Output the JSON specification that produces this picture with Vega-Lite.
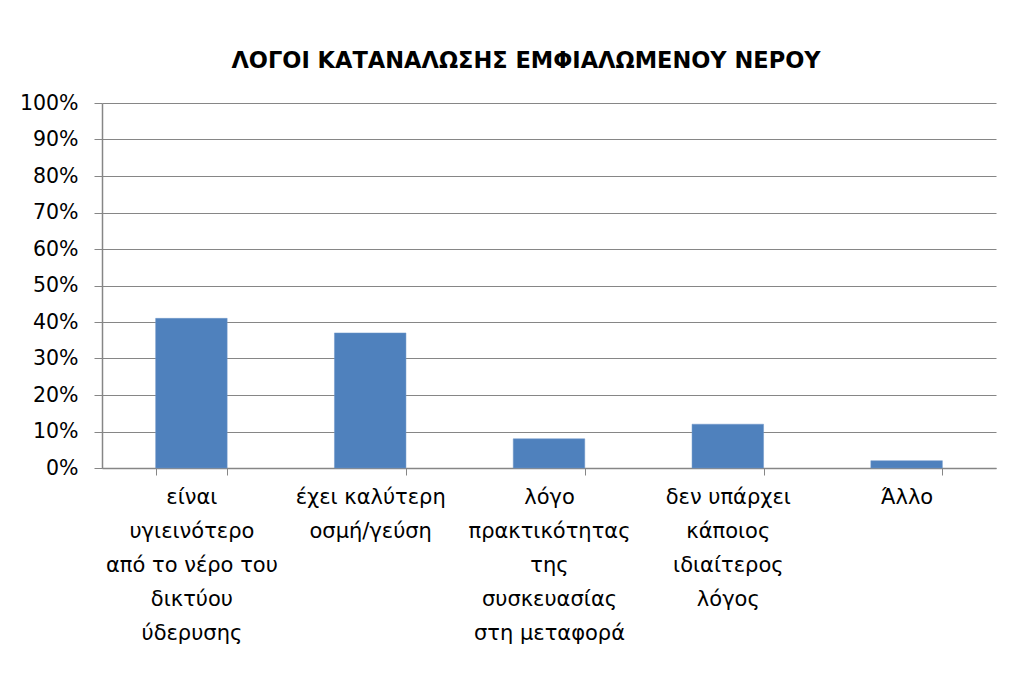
{
  "$schema": "https://vega.github.io/schema/vega-lite/v6.json",
  "width": 894,
  "height": 365,
  "autosize": {"type": "none"},
  "padding": {"left": 102, "top": 103, "right": 17, "bottom": 211},
  "background": "white",
  "title": {
    "text": "ΛΟΓΟΙ ΚΑΤΑΝΑΛΩΣΗΣ ΕΜΦΙΑΛΩΜΕΝΟΥ ΝΕΡΟΥ",
    "font": "DejaVu Sans",
    "fontSize": 22.5,
    "fontWeight": "bold",
    "color": "#000000",
    "anchor": "middle",
    "dx": -23,
    "offset": 21
  },
  "data": {
    "values": [
      {"reason": "είναι\nυγιεινότερο\nαπό το νέρο του\nδικτύου\nύδερυσης", "share": 0.41},
      {"reason": "έχει καλύτερη\nοσμή/γεύση", "share": 0.37},
      {"reason": "λόγο\nπρακτικότητας\nτης\nσυσκευασίας\nστη μεταφορά", "share": 0.08},
      {"reason": "δεν υπάρχει\nκάποιος\nιδιαίτερος\nλόγος", "share": 0.12},
      {"reason": "Άλλο", "share": 0.02}
    ]
  },
  "mark": {"type": "bar", "color": "#4F81BD", "stroke": "#6f97c9", "strokeWidth": 0.5},
  "encoding": {
    "x": {
      "field": "reason",
      "type": "nominal",
      "sort": null,
      "title": null,
      "scale": {"paddingInner": 0.6, "paddingOuter": 0.3},
      "axis": {
        "labelAngle": 0,
        "labelExpr": "split(datum.label, '\\n')",
        "labelFont": "DejaVu Sans",
        "labelFontSize": 21,
        "labelColor": "#000000",
        "labelLineHeight": 34,
        "labelPadding": 11,
        "labelBaseline": "top",
        "labelLimit": 300,
        "tickBand": "extent",
        "tickColor": "#868686",
        "tickSize": 7,
        "domainColor": "#868686",
        "domainWidth": 1.5
      }
    },
    "y": {
      "field": "share",
      "type": "quantitative",
      "title": null,
      "scale": {"domain": [0, 1]},
      "axis": {
        "format": ".0%",
        "values": [0, 0.1, 0.2, 0.3, 0.4, 0.5, 0.6, 0.7, 0.8, 0.9, 1],
        "labelFont": "DejaVu Sans",
        "labelFontSize": 20.5,
        "labelColor": "#000000",
        "labelPadding": 16,
        "tickColor": "#868686",
        "tickSize": 8,
        "gridColor": "#868686",
        "gridWidth": 1.2,
        "domainColor": "#868686",
        "domainWidth": 1.5
      }
    }
  },
  "config": {"view": {"stroke": null}}
}
